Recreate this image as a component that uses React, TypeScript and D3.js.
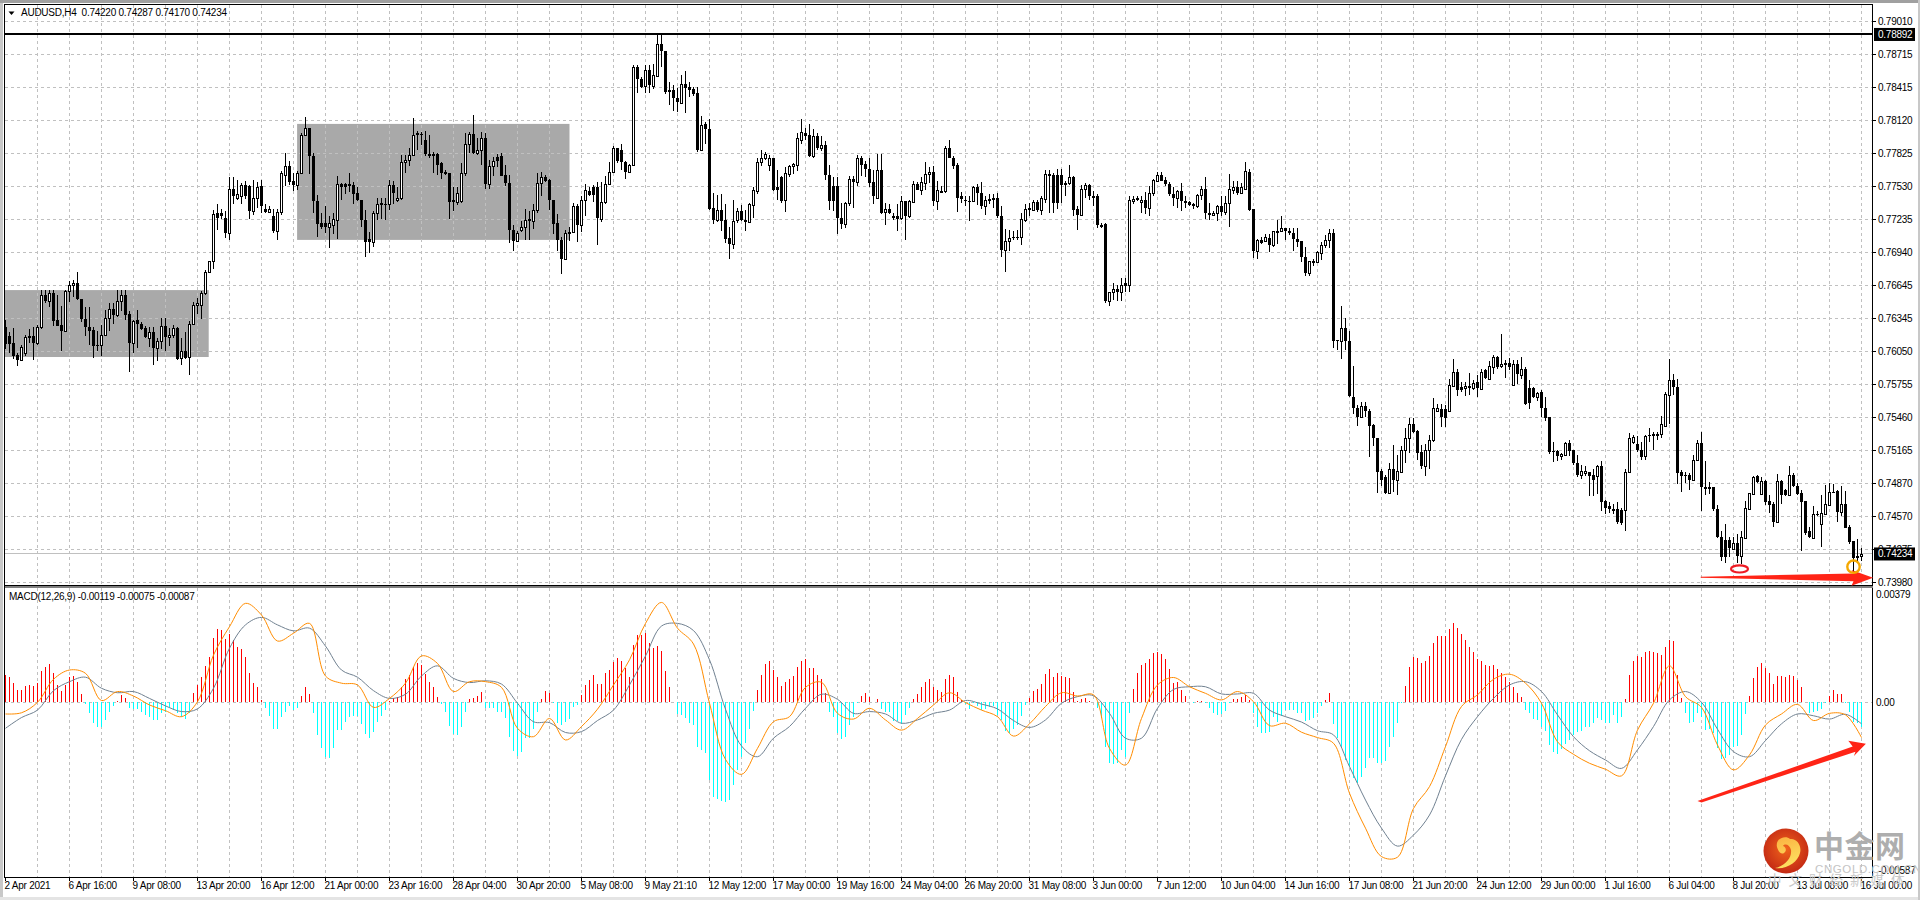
import React from "react";
import * as d3 from "d3";

// Prices are stored in units of 0.0001, one entry per H4 bar.
const opens = [
7627,7619,7613,7602,7597,7604,7619,7619,7613,7627,7656,7650,7657,7633,7629,7623,7659,7665,7666,7652,
7634,7627,7624,7611,7611,7620,7635,7643,7638,7650,7656,7639,7613,7633,7630,7626,7617,7622,7608,7614,
7628,7618,7620,7626,7599,7605,7600,7630,7647,7647,7657,
7676,7686,7729,7729,7725,7711,7751,7743,7744,7754,7753,7731,7743,7753,7733,7730,7726,7713,7730,7763,
7771,7758,7754,7765,7799,7805,7780,7740,7720,7720,7717,7718,7723,7755,7755,7754,7754,7747,7741,7723,
7706,7703,7729,7737,7737,7737,7754,7741,7743,7775,7777,7781,7801,7800,7795,7782,7782,7782,7774,7766,
7765,7740,7739,7740,7765,7791,7800,7783,7786,7796,7755,7771,7779,7780,7763,7756,7714,7704,7714,7717,
7724,7722,7732,7756,7761,7759,7741,7720,7705,7688,7711,7712,7735,7718,7741,7749,7752,7752,7724,7739,
7755,7766,7787,7786,7775,7766,7772,7860,
7849,7843,7857,7843,7852,7881,7874,7839,7839,7832,7828,7845,7842,7840,7837,7786,7809,7804,7734,7723,
7732,7723,7707,7701,7723,7731,7723,7721,7736,7749,7775,7778,7772,7778,7752,7761,7741,7764,7771,7772,
7795,7801,7799,7780,7798,7787,7790,7763,7753,7753,7725,7719,7738,7760,7757,7778,7773,7769,7757,7743,
7768,7730,7733,7726,7726,7725,7740,7726,7739,7755,7750,7756,7764,7766,7740,7748,7749,7787,7778,7772,
7744,7741,7740,7740,7752,7747,7735,7741,7742,7743,7726,7696,7704,7708,7708,7708,7723,7733,7732,7739,
7732,7742,7764,7763,7763,7763,7755,7756,7761,7733,7727,7751,7754,7744,7744,7718,7719,7650,7658,7661,
7658,7666,7665,7740,7742,7739,7741,7734,7747,7758,7763,7759,7755,7746,7743,7749,7740,7739,7737,7735,
7745,7751,7729,7727,7729,7735,7730,7738,7750,7752,7747,7751,7766,7733,7695,7705,7704,7707,7700,7713,
7713,7716,7713,7711,7706,7704,7690,7675,7686,7685,7693,7700,7705,7711,7615,7614,7626,7614,7564,7554,
7546,7556,7552,7539,7527,7498,7492,7478,7500,7490,7497,7517,7527,7540,7534,7515,7502,7517,7526,7552,
7553,7553,7552,7574,7587,7573,7572,7574,7572,7578,7571,7588,7580,7591,7600,7592,7594,7595,7575,7594,
7584,7589,7572,7572,7564,7569,7554,7546,7516,7516,7511,7512,7523,7517,7505,7494,7496,7497,7494,7493,
7502,7471,7466,7464,7464,7463,7463,7497,7524,7522,7517,7511,7530,7530,7531,7531,7538,7566,7579,7573,
7497,7494,7494,7490,7508,7523,7483,7483,7483,7464,7439,7436,7436,7428,7433,7422,7438,7464,7477,7493,
7477,7489,7471,7468,7452,7489,7481,7476,7494,7484,7478,7471,7444,7438,7459,7450,7459,7467,7479,7480,
7461,7468,7448,7435,7422,7422];

const highs = [
7633,7622,7626,7604,7611,7620,7625,7627,7629,7660,7660,7660,7660,7656,7646,7660,7668,7669,7676,7652,
7645,7645,7627,7623,7629,7642,7648,7648,7660,7660,7660,7641,7633,7642,7631,7628,7627,7627,7617,7635,
7635,7626,7629,7627,7617,7622,7632,7649,7653,7659,7678,
7686,7732,7737,7733,7731,7761,7761,7759,7756,7758,7754,7759,7757,7759,7737,7735,7733,7733,7767,7783,
7776,7765,7767,7801,7815,7805,7783,7745,7729,7735,7726,7729,7762,7756,7756,7765,7757,7752,7741,7732,
7712,7731,7743,7743,7743,7759,7758,7752,7781,7781,7787,7814,7803,7802,7803,7799,7784,7783,7775,7768,
7765,7752,7752,7774,7801,7802,7817,7796,7802,7801,7777,7779,7782,7783,7772,7763,7718,7713,7722,7733,
7731,7737,7765,7766,7763,7760,7741,7728,7708,7714,7717,7738,7737,7744,7755,7752,7754,7757,7757,7762,
7775,7789,7787,7791,7776,7773,7862,7862,
7851,7862,7862,7863,7889,7890,7874,7847,7844,7841,7853,7856,7847,7842,7842,7816,7811,7813,7747,7745,
7746,7737,7717,7741,7734,7736,7732,7738,7752,7778,7786,7784,7781,7778,7768,7762,7770,7772,7774,7801,
7813,7805,7809,7804,7801,7798,7794,7772,7761,7761,7738,7739,7762,7762,7781,7780,7776,7778,7768,7782,
7782,7738,7737,7729,7737,7744,7740,7741,7758,7757,7761,7775,7770,7771,7758,7753,7789,7795,7780,7774,
7748,7744,7744,7753,7755,7757,7744,7746,7746,7747,7735,7715,7714,7713,7714,7729,7737,7738,7741,7741,
7744,7768,7768,7765,7769,7769,7758,7772,7762,7735,7754,7756,7755,7749,7746,7720,7720,7658,7666,7665,
7671,7671,7744,7744,7744,7744,7748,7753,7760,7766,7766,7761,7757,7752,7750,7756,7744,7740,7738,7746,
7753,7761,7738,7731,7736,7744,7744,7764,7758,7758,7756,7775,7769,7733,7706,7708,7710,7710,7713,7723,
7726,7716,7716,7716,7716,7704,7699,7686,7688,7695,7703,7709,7715,7715,7615,7646,7635,7623,7592,7557,
7560,7560,7553,7540,7527,7500,7494,7505,7521,7512,7520,7536,7545,7545,7535,7521,7522,7530,7563,7558,
7558,7557,7580,7598,7589,7578,7578,7586,7579,7584,7589,7589,7596,7602,7601,7621,7597,7599,7597,7597,
7600,7591,7579,7573,7569,7570,7564,7546,7524,7517,7514,7524,7526,7517,7512,7503,7502,7497,7500,7503,
7507,7472,7470,7468,7470,7465,7500,7532,7530,7529,7524,7530,7536,7533,7533,7547,7569,7598,7585,7580,
7499,7497,7496,7512,7526,7533,7507,7488,7483,7467,7444,7450,7439,7439,7441,7444,7471,7478,7493,7494,
7492,7490,7476,7470,7495,7490,7482,7502,7496,7487,7481,7471,7448,7466,7462,7476,7485,7487,7486,7481,
7484,7480,7449,7435,7437,7429];

const lows = [
7607,7604,7598,7592,7596,7601,7613,7597,7611,7625,7648,7645,7628,7628,7605,7622,7649,7654,7651,7631,
7619,7611,7599,7605,7601,7619,7623,7630,7636,7641,7633,7587,7604,7608,7624,7617,7609,7593,7596,7607,
7605,7610,7617,7597,7593,7598,7584,7629,7639,7634,7656,
7675,7679,7714,7724,7707,7705,7737,7741,7737,7742,7724,7727,7734,7729,7729,7729,7711,7705,7727,7753,
7754,7749,7750,7764,7798,7764,7729,7708,7715,7711,7698,7710,7706,7741,7746,7748,7737,7740,7717,7690,
7693,7699,7723,7724,7723,7732,7737,7739,7741,7765,7771,7780,7786,7790,7780,7778,7765,7763,7760,7763,
7724,7731,7736,7738,7762,7783,7782,7781,7772,7751,7751,7762,7770,7762,7753,7702,7695,7703,7712,7705,
7705,7715,7729,7744,7757,7732,7710,7695,7674,7687,7704,7711,7703,7712,7726,7744,7739,7700,7721,7737,
7754,7765,7774,7768,7760,7765,7771,7837,
7841,7837,7837,7840,7851,7860,7836,7826,7821,7820,7827,7819,7833,7834,7784,7785,7791,7732,7719,7721,
7713,7702,7688,7697,7720,7722,7713,7720,7725,7746,7771,7777,7767,7749,7741,7738,7730,7761,7764,7767,
7791,7795,7779,7778,7786,7785,7759,7732,7731,7710,7715,7716,7735,7734,7753,7762,7761,7752,7737,7742,
7728,7718,7728,7723,7713,7723,7705,7725,7738,7750,7745,7750,7756,7735,7732,7747,7747,7778,7769,7730,
7738,7735,7722,7739,7736,7733,7727,7737,7734,7725,7690,7676,7695,7705,7705,7700,7721,7726,7731,7730,
7727,7738,7729,7729,7733,7738,7744,7754,7726,7714,7726,7743,7741,7735,7716,7716,7648,7646,7651,7650,
7650,7658,7658,7737,7740,7729,7728,7726,7744,7758,7758,7753,7744,7735,7734,7731,7734,7735,7733,7734,
7741,7724,7723,7726,7722,7726,7727,7717,7746,7745,7746,7750,7731,7689,7688,7701,7703,7694,7699,7701,
7712,7705,7709,7695,7699,7685,7673,7673,7682,7684,7687,7698,7698,7608,7606,7598,7606,7564,7549,7538,
7545,7546,7510,7520,7478,7484,7477,7478,7479,7476,7496,7505,7514,7532,7508,7500,7493,7500,7524,7551,
7537,7537,7551,7573,7565,7569,7565,7566,7570,7564,7570,7580,7579,7585,7589,7590,7581,7588,7575,7576,
7580,7557,7553,7563,7561,7546,7543,7513,7506,7507,7508,7511,7511,7503,7492,7491,7493,7475,7475,7477,
7462,7459,7460,7459,7450,7449,7444,7496,7522,7515,7508,7508,7524,7517,7526,7527,7537,7540,7566,7486,
7479,7487,7481,7490,7507,7462,7476,7477,7462,7438,7417,7415,7421,7427,7415,7414,7437,7464,7477,7487,
7476,7467,7460,7448,7451,7468,7475,7476,7483,7476,7426,7440,7438,7438,7457,7430,7459,7466,7478,7452,
7457,7447,7432,7408,7417,7417];

const closes = [
7612,7612,7601,7597,7609,7618,7617,7613,7627,7656,7650,7657,7632,7628,7623,7659,7665,7666,7652,7634,
7627,7623,7610,7610,7620,7635,7643,7638,7650,7656,7638,7613,7632,7630,7625,7618,7622,7608,7614,7628,
7618,7620,7626,7598,7605,7599,7630,7647,7648,7657,7676,
7686,7728,7725,7726,7711,7751,7744,7746,7754,7744,7731,7743,7752,7735,7730,7733,7713,7730,7765,7771,
7757,7754,7765,7799,7805,7780,7740,7719,7717,7717,7720,7724,7755,7752,7752,7755,7746,7741,7723,7703,
7703,7729,7737,7738,7736,7754,7747,7743,7775,7777,7781,7799,7799,7799,7782,7780,7780,7772,7765,7764,
7739,7741,7747,7765,7791,7800,7783,7786,7796,7755,7771,7776,7776,7762,7756,7714,7704,7711,7717,7723,
7722,7732,7756,7761,7758,7741,7719,7705,7688,7711,7712,7735,7718,7741,7750,7745,7745,7725,7739,7755,
7766,7787,7776,7775,7766,7772,7860,7849,
7842,7857,7844,7853,7881,7874,7838,7838,7832,7829,7845,7841,7839,7836,7786,7808,7804,7733,7723,7732,
7722,7706,7701,7722,7731,7723,7721,7737,7750,7775,7778,7782,7778,7750,7750,7740,7765,7771,7773,7796,
7802,7798,7780,7798,7787,7790,7763,7740,7740,7725,7719,7738,7760,7757,7778,7772,7769,7756,7744,7768,
7729,7733,7729,7725,7724,7740,7726,7740,7755,7750,7757,7764,7766,7740,7750,7749,7787,7778,7771,7743,
7742,7740,7739,7752,7747,7735,7741,7742,7743,7726,7696,7704,7707,7707,7707,7724,7733,7734,7739,7732,
7743,7764,7762,7738,7738,7754,7756,7761,7732,7727,7751,7754,7744,7743,7718,7718,7650,7658,7661,7658,
7665,7664,7741,7742,7743,7741,7734,7747,7759,7763,7758,7755,7746,7743,7749,7740,7738,7736,7735,7745,
7751,7729,7727,7729,7735,7730,7738,7751,7752,7747,7752,7767,7732,7695,7705,7702,7708,7700,7713,7713,
7716,7713,7711,7706,7703,7690,7675,7686,7686,7694,7700,7705,7711,7614,7614,7626,7614,7565,7554,7546,
7556,7552,7538,7527,7497,7490,7478,7500,7490,7498,7517,7527,7540,7533,7514,7502,7517,7526,7554,7554,
7546,7545,7575,7587,7570,7570,7574,7572,7577,7572,7587,7581,7592,7600,7591,7594,7595,7591,7594,7585,
7589,7558,7559,7564,7568,7554,7545,7515,7515,7511,7513,7523,7516,7505,7494,7498,7498,7493,7490,7502,
7470,7465,7464,7462,7452,7451,7497,7527,7528,7517,7510,7529,7529,7531,7529,7540,7567,7579,7573,7496,
7493,7493,7490,7508,7523,7483,7482,7482,7464,7439,7421,7421,7429,7433,7422,7439,7465,7478,7492,7488,
7489,7470,7467,7452,7489,7476,7476,7494,7484,7477,7470,7442,7439,7459,7458,7460,7468,7479,7478,7461,
7468,7447,7434,7420,7420,7423];

// MACD pane values, units of 0.00001.
const macdHist = [
91,86,66,41,41,55,58,55,66,105,119,128,99,58,38,58,84,88,69,28,
-6,-35,-68,-84,-84,-59,-31,-12,4,25,13,
-20,-22,-23,-31,-42,-48,-59,-59,-37,-31,-20,-26,-37,-48,-57,-37,
30,58,84,122,151,214,244,242,212,227,209,184,177,151,97,66,50,8,
-20,-46,-90,-90,-48,-31,-14,-26,-20,21,52,28,
-37,-109,-152,-182,-185,-154,-93,-93,-65,-48,-46,-45,-72,-106,-120,-98,-65,-46,-26,
6,13,17,52,77,91,117,130,125,95,69,50,19,
-6,-31,-78,-106,-109,-81,-31,11,13,21,36,
-18,-18,-18,-31,-31,-51,-115,-162,-178,-165,-120,-120,-89,-33,
11,39,32,-3,-70,-77,-67,-56,-17,-9,
25,58,75,91,61,61,97,108,134,147,139,114,86,192,225,
225,231,200,181,188,172,105,52,2,
-39,-42,-54,-68,-76,-148,-159,-171,-260,-316,-324,-329,-332,-327,-277,-226,-182,-137,-90,-28,
41,91,128,138,108,84,55,69,77,88,119,138,145,114,114,91,78,30,
-31,-48,-101,-124,-115,-76,-48,-3,21,32,19,2,10,
-23,-31,-31,-61,-61,-72,-42,-20,
11,28,50,69,78,52,41,36,78,91,86,36,8,
-6,-22,-3,-14,-26,-23,-17,-14,-42,-59,-96,-104,-90,-76,-46,-9,
13,39,46,61,95,112,86,99,89,83,80,36,4,10,16,4,0,
-20,-54,-151,-204,-206,-202,-159,-182,-35,
45,97,125,132,144,164,168,162,144,112,64,67,41,21,
0,-3,3,3,-3,-20,-37,-42,-39,-30,-3,
10,10,19,25,8,
-37,-84,-101,-101,-98,-48,-65,
-45,-26,-26,-26,-37,-37,-61,-59,-54,-37,-12,8,32,
-72,-118,-148,-193,-215,-254,-271,-251,-221,-187,-187,-202,-202,-196,-148,-115,-70,-3,
55,117,151,147,133,139,155,197,222,223,222,245,264,248,229,209,184,169,145,139,124,123,125,112,97,86,69,52,32,19,
-26,-37,-56,-59,-81,-96,-143,-165,-173,-157,-139,-126,-111,-98,-96,-81,-84,-70,-54,-59,-70,-70,-42,-68,-48,
11,91,139,155,153,169,172,169,164,158,184,209,206,91,13,
-37,-68,-66,-37,-48,-93,-90,-104,-154,-191,-185,-176,-148,-146,-109,-40,
21,80,117,130,116,99,61,88,88,84,91,88,75,50,2,
-37,-33,-28,-21,-1,22,41,28,28,-1,-33,-65,-70,-84];

// MACD and signal lines, read at every fourth bar.
const LINE_STEP = 4;
const macdLine = [
-39,-35,0,77,108,97,6,36,21,-9,-28,-48,2,158,253,331,292,205,231,264,
88,64,58,-17,13,64,155,130,36,69,69,50,-87,-115,-54,-126,-81,-23,58,142,
264,334,248,195,-3,-191,-241,-154,-65,-48,50,67,-37,-56,-20,-59,-93,-54,-9,32,
-1,-26,-48,-113,-72,-14,32,21,25,-154,-210,-54,58,83,52,30,8,36,2,-78,
-70,-100,-118,-137,-304,-421,-516,-518,-355,-282,-148,-14,25,77,94,64,-3,-132,-174,-204,
-224,-246,-93,-3,122,19,-17,-143,-226,-176,-76,-39,-7,-61,-37,-42,-118];
const signalLine = [
-87,-51,-26,39,69,84,47,32,36,13,-12,-31,-22,47,181,259,284,259,239,248,
188,108,84,39,13,27,88,122,80,66,72,61,-3,-65,-68,-101,-98,-61,-26,58,
155,255,264,240,142,-23,-146,-182,-120,-81,-20,27,10,-37,-31,-39,-70,-59,-37,-26,
6,-6,-22,-61,-84,-59,-3,19,22,-37,-120,-120,-20,43,52,52,28,28,30,-26,
-48,-66,-95,-109,-215,-327,-421,-481,-444,-377,-246,-124,-48,13,58,69,36,-42,-115,-162,
-193,-221,-159,-81,8,36,0,-90,-165,-182,-128,-72,-39,-45,-56,-40,-72];

const priceTicks = ["0.79010","0.78715","0.78415","0.78120","0.77825","0.77530","0.77235","0.76940","0.76645","0.76345","0.76050","0.75755","0.75460","0.75165","0.74870","0.74570","0.74275","0.73980"];
const dateLabels = ["2 Apr 2021","6 Apr 16:00","9 Apr 08:00","13 Apr 20:00","16 Apr 12:00","21 Apr 00:00","23 Apr 16:00","28 Apr 04:00","30 Apr 20:00","5 May 08:00","9 May 21:10","12 May 12:00","17 May 00:00","19 May 16:00","24 May 04:00","26 May 20:00","31 May 08:00","3 Jun 00:00","7 Jun 12:00","10 Jun 04:00","14 Jun 16:00","17 Jun 08:00","21 Jun 20:00","24 Jun 12:00","29 Jun 00:00","1 Jul 16:00","6 Jul 04:00","8 Jul 20:00","13 Jul 08:00","16 Jul 00:00"];
const LABEL_EVERY = 16;
const GRID_EVERY = 8;
const highLevel = 7889.2;
const lastPrice = 7423.4;
const title = "AUDUSD,H4  0.74220 0.74287 0.74170 0.74234";
const macdTitle = "MACD(12,26,9) -0.00119 -0.00075 -0.00087";

// bar index / price extents of the two shaded ranges
const rangeBoxes = [
  { from: -1, to: 50.8, top: 7660, bottom: 7600 },
  { from: 72.9, to: 141, top: 7809, bottom: 7705 },
];
const flatArrow: [number, number][] = [[423.8,7403],[462,7406],[461.5,7409],[466.9,7402],[461.5,7395],[462,7399],[423.8,7402]];
const risingArrow: [number, number][] = [[423,-330],[461.8,-148],[460.7,-129],[465.1,-139],[462.1,-180],[462.5,-165],[424,-335]];

const FONT = "'Liberation Sans', Arial, sans-serif";
const RED = "#ff0000";
const CYAN = "#00ffff";
const GRID = "#c0c0c0";
const DASH = "3.5 2.5";
const LS = -0.25;

const x = d3.scaleLinear().domain([0, 464]).range([5.5, 1861.5]);
const yP = d3.scaleLinear().domain([7901, 7398]).range([21.3, 582.3]);
const yM = d3.scaleLinear().domain([379, -587]).range([589, 877.8]);
const snap = (v: number) => Math.round(v - 0.5) + 0.5;

const PLOT_L = 4.5, PLOT_R = 1872.5, PLOT_T = 4.5, MAIN_B = 585.5, SUB_T = 587.5, SUB_B = 877.5;

const macdPath = d3.line<number>().x((_, i) => x(i * LINE_STEP)).y((d) => yM(d)).curve(d3.curveCatmullRom.alpha(0.5));
const poly = (pts: [number, number][], sy: (v: number) => number) =>
  pts.map(([b, v]) => `${x(b)},${sy(v)}`).join(" ");

const gridBars = d3.range(GRID_EVERY, opens.length, GRID_EVERY);

export default function App() {
  return (
    <svg width={1920} height={900} viewBox="0 0 1920 900" style={{ position: "fixed", left: 0, top: 0, background: "#fff" }} fontFamily={FONT} letterSpacing={LS}>
      <rect x={0} y={0} width={1920} height={3} fill="#a0a0a0" />
      <rect x={0} y={3} width={3} height={897} fill="#c8c8c8" />
      <rect x={0} y={897} width={1920} height={3} fill="#e4e4e4" />
      <rect x={1918} y={0} width={2} height={900} fill="#c8c8c8" />

      <defs>
        <clipPath id="main"><rect x={PLOT_L} y={PLOT_T} width={PLOT_R - PLOT_L} height={MAIN_B - PLOT_T} /></clipPath>
        <clipPath id="sub"><rect x={PLOT_L} y={SUB_T} width={PLOT_R - PLOT_L} height={SUB_B - SUB_T} /></clipPath>
        <radialGradient id="logoFill" cx="50%" cy="45%" r="55%">
          <stop offset="0%" stopColor="#f0641c" />
          <stop offset="100%" stopColor="#c42a14" />
        </radialGradient>
        <linearGradient id="swirl" x1="0" y1="0" x2="0.3" y2="1">
          <stop offset="0%" stopColor="#fbb040" />
          <stop offset="100%" stopColor="#fde060" />
        </linearGradient>
      </defs>

      {/* main pane */}
      <g clipPath="url(#main)">
        {rangeBoxes.map((b, i) => (
          <rect key={i} x={x(b.from)} y={yP(b.top)} width={x(b.to) - x(b.from)} height={yP(b.bottom) - yP(b.top)} fill="#a9a9a9" />
        ))}
        <g stroke={GRID} strokeDasharray={DASH} shapeRendering="crispEdges">
          {priceTicks.map((t) => (
            <line key={t} x1={PLOT_L} x2={PLOT_R} y1={snap(yP(+t * 10000))} y2={snap(yP(+t * 10000))} />
          ))}
          {gridBars.map((b) => (
            <line key={b} x1={x(b)} x2={x(b)} y1={PLOT_T} y2={MAIN_B} />
          ))}
        </g>
        <line x1={PLOT_L} x2={PLOT_R} y1={snap(yP(lastPrice))} y2={snap(yP(lastPrice))} stroke={GRID} shapeRendering="crispEdges" />
        <g shapeRendering="crispEdges">
          {opens.map((o, i) => {
            const c = closes[i];
            const top = Math.round(yP(Math.max(o, c)));
            const bot = Math.round(yP(Math.min(o, c)));
            const cx = x(i);
            const up = c >= o;
            return (
              <g key={i}>
                <line x1={cx} x2={cx} y1={Math.round(yP(highs[i]))} y2={Math.round(yP(lows[i]))} stroke="#000" />
                {up ? (
                  <rect x={cx - 1} y={top + 0.5} width={2} height={Math.max(bot - top, 1)} fill="#fff" stroke="#000" />
                ) : (
                  <rect x={cx - 1.5} y={top} width={3} height={Math.max(bot - top, 1)} fill="#000" />
                )}
              </g>
            );
          })}
        </g>
        <line x1={PLOT_L} x2={PLOT_R} y1={yP(highLevel)} y2={yP(highLevel)} stroke="#000" strokeWidth={2} shapeRendering="crispEdges" />
      </g>

      <text x={21} y={16} fontSize={10} fill="#000" xmlSpace="preserve">{title}</text>
      <path d="M8.5 11.5 L14.5 11.5 L11.5 15 Z" fill="#000" />

      {/* MACD pane */}
      <g clipPath="url(#sub)">
        <g stroke={GRID} strokeDasharray={DASH} shapeRendering="crispEdges">
          <line x1={PLOT_L} x2={PLOT_R} y1={snap(yM(0))} y2={snap(yM(0))} />
          {gridBars.map((b) => (
            <line key={b} x1={x(b)} x2={x(b)} y1={SUB_T} y2={SUB_B} />
          ))}
        </g>
        <g shapeRendering="crispEdges">
          {macdHist.map((v, i) => (
            <line key={i} x1={x(i)} x2={x(i)} y1={yM(0)} y2={yM(v)} stroke={v >= 0 ? RED : CYAN} />
          ))}
        </g>
        <path d={macdPath(signalLine) ?? ""} fill="none" stroke="#708090" strokeWidth={1} />
        <path d={macdPath(macdLine) ?? ""} fill="none" stroke="#ff8c00" strokeWidth={1} />
      </g>
      <text x={9} y={600} fontSize={10} fill="#000">{macdTitle}</text>

      {/* frame */}
      <g fill="none" stroke="#000" shapeRendering="crispEdges">
        <path d={`M${PLOT_L} ${PLOT_T} H${PLOT_R} V${SUB_B} H${PLOT_L} Z`} />
        <line x1={PLOT_L} x2={PLOT_R} y1={MAIN_B} y2={MAIN_B} />
        <line x1={PLOT_L} x2={PLOT_R} y1={SUB_T} y2={SUB_T} />
        <rect x={PLOT_L} y={MAIN_B} width={PLOT_R - PLOT_L} height={2} fill="#808080" stroke="none" />
      </g>

      {/* price axis */}
      <g fontSize={10} fill="#000">
        {priceTicks.map((t) => (
          <g key={t}>
            <line x1={PLOT_R} x2={PLOT_R + 3} y1={snap(yP(+t * 10000))} y2={snap(yP(+t * 10000))} stroke="#000" shapeRendering="crispEdges" />
            <text x={1878} y={yP(+t * 10000) + 3.5}>{t}</text>
          </g>
        ))}
        <text x={1876} y={yM(379) + 9}>0.00379</text>
        <text x={1876} y={yM(0) + 3.5}>0.00</text>
        <text x={1878} y={873.5}>-0.00587</text>
      </g>
      <rect x={1874} y={yP(highLevel) - 6.5} width={41} height={13} fill="#000" />
      <text x={1878} y={yP(highLevel) + 3.5} fontSize={10} fill="#fff">0.78892</text>
      <rect x={1874} y={yP(lastPrice) - 6.5} width={41} height={13} fill="#000" />
      <text x={1878} y={yP(lastPrice) + 3.5} fontSize={10} fill="#fff">0.74234</text>

      {/* time axis */}
      <g fontSize={10} fill="#000">
        {dateLabels.map((d, i) => (
          <g key={d}>
            <line x1={x(i * LABEL_EVERY)} x2={x(i * LABEL_EVERY)} y1={SUB_B} y2={SUB_B + 3} stroke="#000" shapeRendering="crispEdges" />
            <text x={x(i * LABEL_EVERY) - 1} y={889}>{d}</text>
          </g>
        ))}
      </g>

      {/* hand-drawn annotations */}
      <polygon points={poly(flatArrow, yP)} fill="#ff2416" />
      <polygon points={poly(risingArrow, yM)} fill="#ff2416" />
      <ellipse cx={x(433.5)} cy={yP(7410)} rx={8.5} ry={3.6} fill="none" stroke="#ee1c25" strokeWidth={2.2} />
      <circle cx={x(462)} cy={yP(7412)} r={6.2} fill="none" stroke="#f5a800" strokeWidth={2.4} />

      {/* watermark */}
      <g>
        <circle cx={1786} cy={851} r={22.5} fill="url(#logoFill)" />
        <path d="M1777 847 C1775 838 1786 835 1790 839 C1797 838 1802 846 1800 853 C1798 862 1786 870 1775 868 C1785 866 1792 858 1791 850 C1790 845 1785 843 1783 846 C1786 847 1787 851 1784 853 C1781 855 1778 851 1777 847 Z" fill="url(#swirl)" />
        <text x={1814} y={857} fontSize={30} fontWeight={700} letterSpacing={0.5} fill="#aeaeae" fontFamily="'Noto Sans CJK SC', sans-serif">中金网</text>
        <text x={1815} y={873} fontSize={11.5} fill="#c4c4c4" letterSpacing={0.6}>CNGOLD.COM.CN</text>
        <text x={1768} y={885} fontSize={13.5} fill="#c8c8c8" letterSpacing={7} fontFamily="'Noto Sans CJK SC', sans-serif">中文财经新媒体</text>
      </g>
    </svg>
  );
}
